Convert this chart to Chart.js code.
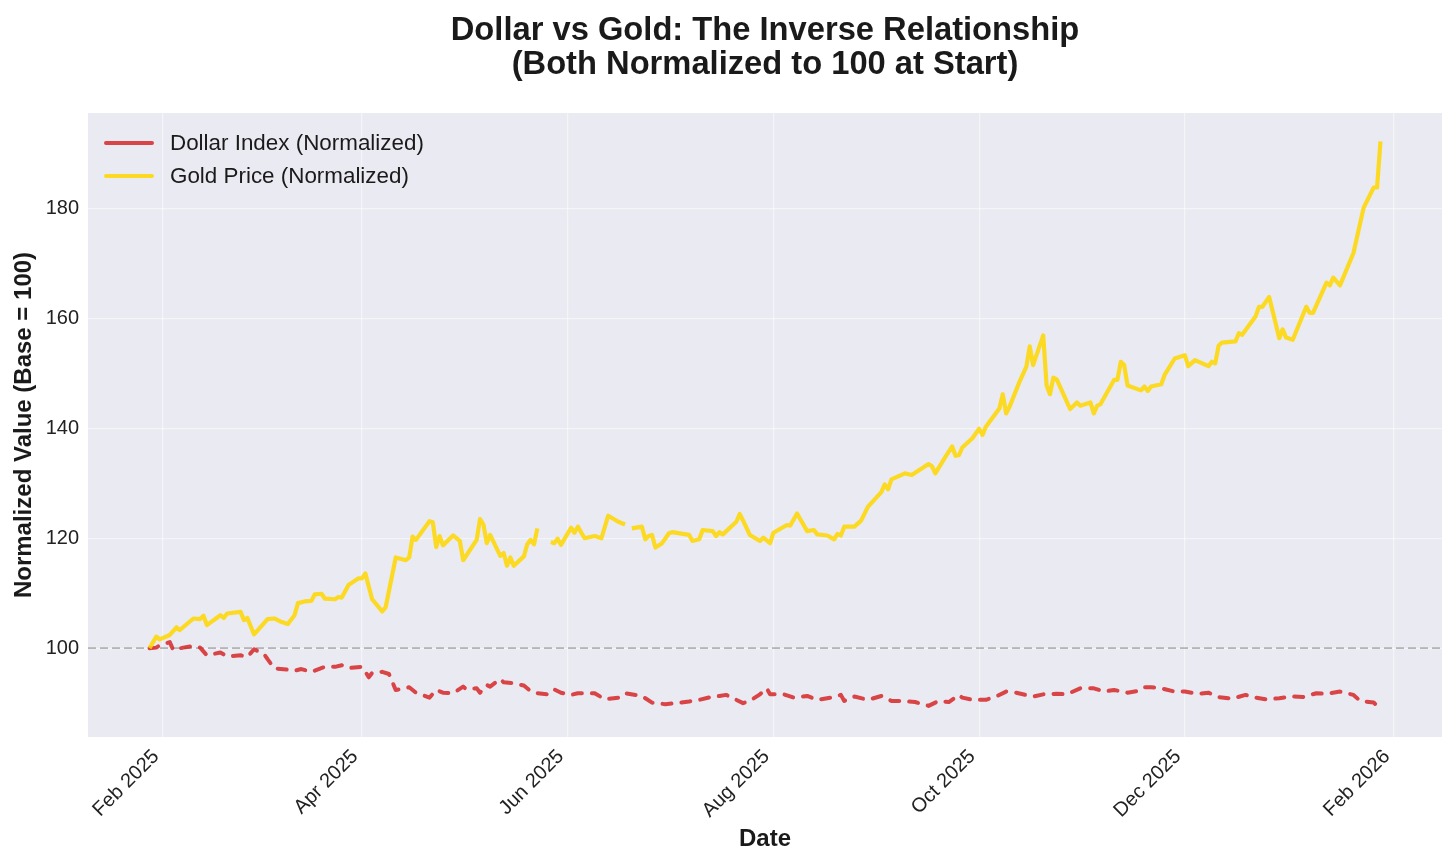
<!DOCTYPE html>
<html>
<head>
<meta charset="utf-8">
<script src="https://cdn.jsdelivr.net/npm/chart.js@4.4.1/dist/chart.umd.min.js"></script>
<style>
  html, body { margin: 0; padding: 0; background: #ffffff; }
  #wrap { width: 1456px; height: 866px; position: relative; }
</style>
</head>
<body>
<div id="wrap"><canvas id="chart"></canvas></div>
<script>
// Gold price, normalized to 100 on the first day (null = missing day, line breaks)
const goldDates = [
    '2025-01-28','2025-01-30','2025-01-31','2025-02-03','2025-02-05','2025-02-06','2025-02-10','2025-02-12','2025-02-13','2025-02-14',
    '2025-02-18','2025-02-19','2025-02-20','2025-02-24','2025-02-25','2025-02-26','2025-02-28','2025-03-04','2025-03-06','2025-03-08',
    '2025-03-10','2025-03-12','2025-03-13','2025-03-15','2025-03-17','2025-03-18','2025-03-20','2025-03-21','2025-03-24','2025-03-25',
    '2025-03-26','2025-03-28','2025-03-31','2025-04-01','2025-04-02','2025-04-04','2025-04-07','2025-04-08','2025-04-11','2025-04-14',
    '2025-04-15','2025-04-16','2025-04-17','2025-04-21','2025-04-22','2025-04-23','2025-04-24','2025-04-25','2025-04-28','2025-04-30',
    '2025-05-01','2025-05-05','2025-05-06','2025-05-07','2025-05-08','2025-05-09','2025-05-12','2025-05-13','2025-05-14','2025-05-15',
    '2025-05-16','2025-05-19','2025-05-20','2025-05-21','2025-05-22','2025-05-23','2025-05-26','2025-05-27','2025-05-28','2025-05-29',
    '2025-05-30','2025-06-02','2025-06-03','2025-06-04','2025-06-06','2025-06-09','2025-06-11','2025-06-13','2025-06-16','2025-06-18',
    '2025-06-19','2025-06-20','2025-06-23','2025-06-24','2025-06-25','2025-06-26','2025-06-27','2025-06-29','2025-07-01','2025-07-02',
    '2025-07-07','2025-07-08','2025-07-10','2025-07-11','2025-07-14','2025-07-15','2025-07-16','2025-07-17','2025-07-21','2025-07-22',
    '2025-07-23','2025-07-25','2025-07-28','2025-07-29','2025-07-31','2025-08-01','2025-08-05','2025-08-06','2025-08-08','2025-08-11',
    '2025-08-13','2025-08-14','2025-08-17','2025-08-19','2025-08-20','2025-08-21','2025-08-22','2025-08-25','2025-08-27','2025-08-29',
    '2025-09-02','2025-09-03','2025-09-04','2025-09-05','2025-09-09','2025-09-11','2025-09-16','2025-09-17','2025-09-18','2025-09-21',
    '2025-09-23','2025-09-24','2025-09-25','2025-09-26','2025-09-29','2025-10-01','2025-10-02','2025-10-03','2025-10-07','2025-10-08',
    '2025-10-09','2025-10-10','2025-10-13','2025-10-15','2025-10-16','2025-10-17','2025-10-20','2025-10-21','2025-10-22','2025-10-23',
    '2025-10-24','2025-10-28','2025-10-30','2025-10-31','2025-11-03','2025-11-04','2025-11-05','2025-11-06','2025-11-10','2025-11-11',
    '2025-11-12','2025-11-13','2025-11-14','2025-11-18','2025-11-19','2025-11-20','2025-11-21','2025-11-24','2025-11-25','2025-11-28',
    '2025-12-01','2025-12-02','2025-12-04','2025-12-08','2025-12-09','2025-12-10','2025-12-11','2025-12-12','2025-12-16','2025-12-17',
    '2025-12-18','2025-12-22','2025-12-23','2025-12-24','2025-12-26','2025-12-29','2025-12-30','2025-12-31','2026-01-02','2026-01-06',
    '2026-01-07','2026-01-08','2026-01-12','2026-01-13','2026-01-14','2026-01-16','2026-01-20','2026-01-23','2026-01-26','2026-01-27',
    '2026-01-28'
];
const goldValues = [
    100.0, 102.1, 101.6, 102.4, 103.8, 103.3, 105.4, 105.3, 105.9, 104.2,
    106.0, 105.5, 106.3, 106.6, 105.1, 105.5, 102.5, 105.3, 105.4, 104.8,
    104.4, 106.0, 108.2, 108.5, 108.6, 109.8, 109.9, 109.0, 108.9, 109.3,
    109.2, 111.5, 112.7, 112.7, 113.6, 108.9, 106.7, 107.4, 116.5, 116.0,
    116.5, 120.3, 119.7, 123.1, 122.9, 118.4, 120.4, 118.7, 120.5, 119.5,
    116.0, 119.7, 123.5, 122.5, 119.1, 120.6, 116.8, 117.3, 115.0, 116.5,
    115.0, 116.7, 118.9, 119.7, 118.9, 121.8, null,  119.3, 119.1, 119.9,
    118.8, 121.9, 121.0, 122.1, 120.0, 120.4, 120.0, 124.1, 123.0, 122.5,
    null,  121.8, 122.1, 119.8, 120.4, 120.6, 118.3, 119.1, 120.9, 121.1,
    120.6, 119.5, 119.8, 121.5, 121.3, 120.4, 121.1, 120.7, 123.0, 124.4,
    123.2, 120.6, 119.5, 120.1, 119.1, 121.0, 122.4, 122.3, 124.5, 121.3,
    121.5, 120.7, 120.5, 119.8, 120.8, 120.5, 122.1, 122.1, 123.2, 125.7,
    128.4, 129.8, 128.9, 130.7, 131.8, 131.5, 133.5, 133.1, 131.8, 134.8,
    136.7, 135.0, 135.1, 136.5, 138.2, 139.9, 138.8, 140.3, 143.6, 146.2,
    142.7, 143.9, 148.5, 151.2, 154.9, 151.5, 156.9, 147.8, 146.2, 149.2,
    148.9, 143.5, 144.7, 144.1, 144.7, 142.7, 144.1, 144.4, 148.8, 148.8,
    152.1, 151.5, 147.8, 146.9, 147.6, 146.8, 147.6, 148.0, 149.7, 152.7,
    153.3, 151.3, 152.4, 151.3, 152.1, 151.8, 155.0, 155.6, 155.8, 157.3,
    157.0, 160.4, 162.1, 162.1, 163.9, 156.4, 158.0, 156.5, 156.1, 162.1,
    161.0, 161.0, 166.5, 166.0, 167.4, 166.0, 171.9, 180.1, 183.8, 183.8,
    192.2
];

// US dollar index, normalized to 100 on the first day
const dollarDates = [
    '2025-01-28','2025-01-30','2025-01-31','2025-02-03','2025-02-04','2025-02-07','2025-02-10','2025-02-12','2025-02-14','2025-02-18',
    '2025-02-20','2025-02-24','2025-02-26','2025-02-28','2025-03-03','2025-03-04','2025-03-06','2025-03-10','2025-03-12','2025-03-14',
    '2025-03-17','2025-03-21','2025-03-24','2025-03-26','2025-03-28','2025-04-01','2025-04-02','2025-04-03','2025-04-04','2025-04-07',
    '2025-04-09','2025-04-11','2025-04-14','2025-04-15','2025-04-17','2025-04-21','2025-04-23','2025-04-25','2025-04-28','2025-05-01',
    '2025-05-02','2025-05-05','2025-05-06','2025-05-08','2025-05-09','2025-05-12','2025-05-13','2025-05-16','2025-05-19','2025-05-21',
    '2025-05-23','2025-05-26','2025-05-28','2025-05-30','2025-06-02','2025-06-04','2025-06-06','2025-06-09','2025-06-12','2025-06-16',
    '2025-06-18','2025-06-23','2025-06-26','2025-06-30','2025-07-03','2025-07-07','2025-07-10','2025-07-14','2025-07-16','2025-07-18',
    '2025-07-21','2025-07-23','2025-07-25','2025-07-28','2025-07-30','2025-07-31','2025-08-04','2025-08-07','2025-08-11','2025-08-14',
    '2025-08-18','2025-08-21','2025-08-22','2025-08-25','2025-08-29','2025-09-02','2025-09-05','2025-09-08','2025-09-12','2025-09-16',
    '2025-09-19','2025-09-22','2025-09-25','2025-09-26','2025-09-29','2025-10-03','2025-10-06','2025-10-09','2025-10-12','2025-10-17',
    '2025-10-20','2025-10-24','2025-10-27','2025-10-31','2025-11-04','2025-11-07','2025-11-10','2025-11-14','2025-11-17','2025-11-19',
    '2025-11-21','2025-11-24','2025-11-28','2025-12-01','2025-12-05','2025-12-08','2025-12-11','2025-12-15','2025-12-19','2025-12-22',
    '2025-12-25','2025-12-29','2026-01-02','2026-01-05','2026-01-09','2026-01-12','2026-01-16','2026-01-20','2026-01-22','2026-01-26',
    '2026-01-28'
];
const dollarValues = [
    100.0, 100.1, 100.5, 101.1, 99.7, 100.1, 100.4, 100.1, 98.7, 99.2,
    98.5, 98.7, 98.4, 99.8, 98.9, 98.0, 96.3, 96.1, 95.9, 96.2,
    95.7, 96.6, 96.6, 96.9, 96.4, 96.6, 95.7, 94.7, 95.5, 95.7,
    95.3, 92.4, 92.7, 92.9, 91.9, 91.0, 92.4, 91.9, 91.8, 93.0,
    92.5, 92.7, 91.9, 93.3, 93.0, 94.4, 93.8, 93.6, 93.2, 92.2,
    91.8, 91.6, 92.5, 91.9, 91.5, 91.8, 91.8, 91.8, 90.7, 91.0,
    91.8, 91.3, 90.1, 89.8, 90.0, 90.3, 90.6, 91.2, 91.3, 91.5,
    90.6, 90.0, 90.4, 91.6, 92.7, 91.6, 91.6, 91.0, 91.3, 90.6,
    91.0, 91.5, 90.4, 91.2, 90.6, 91.3, 90.4, 90.4, 90.2, 89.5,
    90.4, 90.2, 91.5, 91.0, 90.6, 90.6, 91.2, 92.1, 91.9, 91.2,
    91.6, 91.7, 91.6, 92.7, 92.7, 92.1, 92.4, 91.9, 92.2, 92.9,
    92.9, 92.7, 92.1, 92.1, 91.7, 91.9, 91.1, 90.8, 91.5, 91.0,
    90.7, 90.9, 91.2, 91.1, 91.8, 91.7, 92.1, 91.5, 90.4, 90.1,
    89.0
];

// Axis ticks
const xTickDates = ['2025-02-01', '2025-04-01', '2025-06-01', '2025-08-01', '2025-10-01', '2025-12-01', '2026-02-01'];
const xTickLabels = ['Feb 2025', 'Apr 2025', 'Jun 2025', 'Aug 2025', 'Oct 2025', 'Dec 2025', 'Feb 2026'];
const yTicks = [100, 120, 140, 160, 180];
const baseValue = 100;

const FONT = "'Liberation Sans', Arial, sans-serif";
const GOLD = 'rgba(255, 215, 0, 0.85)';
const RED = 'rgba(214, 39, 40, 0.85)';

// days since 1 Feb 2025, used as the linear x value
const dayZero = Date.UTC(2025, 1, 1);
const toDay = (s) => (Date.parse(s + 'T00:00:00Z') - dayZero) / 86400000;

const goldPoints = goldDates.map((d, i) => ({ x: toDay(d), y: goldValues[i] }));
const dollarPoints = dollarDates.map((d, i) => ({ x: toDay(d), y: dollarValues[i] }));

// matplotlib-like 5% margins
const allX = goldPoints.concat(dollarPoints).map(p => p.x);
const allY = goldValues.concat(dollarValues).filter(v => v !== null);
const xLo = Math.min(...allX), xHi = Math.max(...allX);
const yLo = Math.min(...allY), yHi = Math.max(...allY);
const xMin = xLo - (xHi - xLo) * 0.05, xMax = xHi + (xHi - xLo) * 0.05;
const yMin = yLo - (yHi - yLo) * 0.05, yMax = yHi + (yHi - yLo) * 0.05;

const xTickValues = xTickDates.map(toDay);

const plotBackground = {
    id: 'plotBackground',
    beforeDraw(chart) {
        const { ctx, chartArea: a } = chart;
        ctx.save();
        ctx.fillStyle = '#eaeaf2';
        ctx.fillRect(a.left, a.top, a.right - a.left, a.bottom - a.top);
        ctx.restore();
    }
};

// legend drawn in the upper-left corner of the plot, matplotlib style
const cornerLegend = {
    id: 'cornerLegend',
    afterDatasetsDraw(chart) {
        const { ctx, chartArea: a } = chart;
        const items = [
            { text: 'Dollar Index (Normalized)', color: RED },
            { text: 'Gold Price (Normalized)', color: GOLD }
        ];
        ctx.save();
        ctx.font = `22.4px ${FONT}`;
        ctx.textBaseline = 'middle';
        ctx.lineCap = 'round';
        items.forEach((it, i) => {
            const y = a.top + 30 + i * 33;
            ctx.strokeStyle = it.color;
            ctx.lineWidth = 4;
            ctx.beginPath();
            ctx.moveTo(a.left + 18, y);
            ctx.lineTo(a.left + 64, y);
            ctx.stroke();
            ctx.fillStyle = '#1a1a1a';
            ctx.fillText(it.text, a.left + 82, y + 1);
        });
        ctx.restore();
    }
};

new Chart(document.getElementById('chart'), {
    type: 'line',
    data: {
        datasets: [
            {
                label: 'Base',
                data: [{ x: xMin, y: baseValue }, { x: xMax, y: baseValue }],
                borderColor: 'rgba(128, 128, 128, 0.55)',
                borderWidth: 1.6,
                borderDash: [8, 4],
                pointRadius: 0,
                order: 3
            },
            {
                label: 'Dollar Index (Normalized)',
                data: dollarPoints,
                borderColor: RED,
                borderWidth: 4,
                borderDash: [9, 10],
                borderCapStyle: 'round',
                borderJoinStyle: 'round',
                pointRadius: 0,
                tension: 0,
                order: 2
            },
            {
                label: 'Gold Price (Normalized)',
                data: goldPoints,
                borderColor: GOLD,
                borderWidth: 4.2,
                borderJoinStyle: 'round',
                pointRadius: 0,
                tension: 0,
                spanGaps: false,
                order: 1
            }
        ]
    },
    options: {
        responsive: true,
        maintainAspectRatio: false,
        animation: false,
        layout: { padding: { left: 0, right: 14, top: 0, bottom: 0 } },
        plugins: {
            legend: { display: false },
            tooltip: { enabled: false },
            title: {
                display: true,
                fullSize: false,
                text: ['Dollar vs Gold: The Inverse Relationship', '(Both Normalized to 100 at Start)'],
                color: '#1a1a1a',
                font: { family: FONT, size: 32.7, weight: 'bold', lineHeight: 1.07 },
                padding: { top: 13, bottom: 30 }
            }
        },
        scales: {
            x: {
                type: 'linear',
                min: xMin,
                max: xMax,
                afterBuildTicks: (scale) => { scale.ticks = xTickValues.map(v => ({ value: v })); },
                afterFit: (scale) => { scale.height = 129; },
                border: { display: false },
                grid: { color: 'rgba(255, 255, 255, 0.5)', lineWidth: 1.2, drawTicks: false },
                ticks: {
                    autoSkip: false,
                    minRotation: 45,
                    maxRotation: 45,
                    padding: 8,
                    labelOffset: -7,
                    color: '#222222',
                    font: { family: FONT, size: 20 },
                    callback: (v) => xTickLabels[xTickValues.indexOf(v)] || ''
                },
                title: {
                    display: true,
                    text: 'Date',
                    color: '#1a1a1a',
                    font: { family: FONT, size: 24, weight: 'bold' },
                    padding: { top: 0, bottom: 12 }
                }
            },
            y: {
                type: 'linear',
                min: yMin,
                max: yMax,
                afterBuildTicks: (scale) => { scale.ticks = yTicks.map(v => ({ value: v })); },
                afterFit: (scale) => { scale.width = 88; },
                border: { display: false },
                grid: { color: 'rgba(255, 255, 255, 0.5)', lineWidth: 1.2, drawTicks: false },
                ticks: {
                    padding: 9,
                    color: '#222222',
                    font: { family: FONT, size: 20 }
                },
                title: {
                    display: true,
                    text: 'Normalized Value (Base = 100)',
                    color: '#1a1a1a',
                    font: { family: FONT, size: 24, weight: 'bold' },
                    padding: { top: 10, bottom: 0 }
                }
            }
        }
    },
    plugins: [plotBackground, cornerLegend]
});
</script>
</body>
</html>
